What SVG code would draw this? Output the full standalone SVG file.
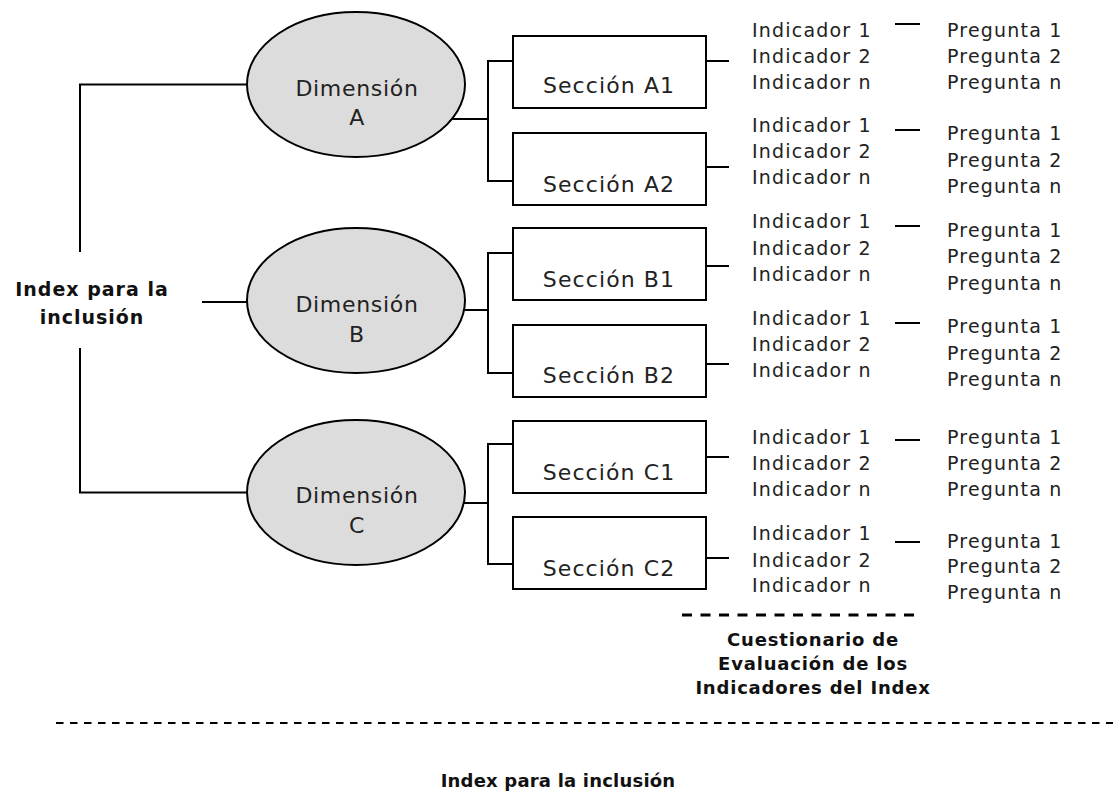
<svg xmlns="http://www.w3.org/2000/svg" width="1113" height="794" viewBox="0 0 1113 794">
  <style>
    .line { fill: none; stroke: #000; stroke-width: 2; }
    .dim { fill: #dcdcdc; stroke: #000; stroke-width: 2; }
    .box { fill: #fff; stroke: #000; stroke-width: 2; }
    .dimtxt { font-family: "DejaVu Sans", sans-serif; font-size: 22px; fill: #222; letter-spacing: 0.7px; text-anchor: middle; }
    .sectxt { font-family: "DejaVu Sans", sans-serif; font-size: 22px; fill: #222; letter-spacing: 1.1px; text-anchor: middle; }
    .item { font-family: "DejaVu Sans", sans-serif; font-size: 19px; fill: #222; letter-spacing: 1.2px; }
    .bold { font-family: "DejaVu Sans", sans-serif; font-weight: bold; fill: #111; text-anchor: middle; }
    .dash-short { fill: none; stroke: #000; stroke-width: 3; stroke-dasharray: 10 8.5; }
    .dash-long { fill: none; stroke: #000; stroke-width: 2; stroke-dasharray: 7.5 6.5; }
  </style>

  <!-- connectors -->
  <g id="connectors">
    <!-- root to dimensions -->
    <path class="line" d="M260,84.5 H80 V252"/>
    <path class="line" d="M80,348 V492.5 H260"/>
    <path class="line" d="M202,302 H260"/>
    <!-- dimension brackets -->
    <path class="line" d="M440,119 H488"/>
    <path class="line" d="M513,61 H488 V181 H513"/>
    <path class="line" d="M440,310 H488"/>
    <path class="line" d="M513,253 H488 V373 H513"/>
    <path class="line" d="M440,503 H488"/>
    <path class="line" d="M513,444 H488 V564 H513"/>
    <!-- sections to indicator lists -->
    <path class="line" d="M706,61 H729"/>
    <path class="line" d="M706,167 H729"/>
    <path class="line" d="M706,266 H729"/>
    <path class="line" d="M706,364 H729"/>
    <path class="line" d="M706,457 H729"/>
    <path class="line" d="M706,558 H729"/>
    <!-- indicator lists to question lists -->
    <path class="line" d="M895,24 H920"/>
    <path class="line" d="M895,130 H920"/>
    <path class="line" d="M895,226 H920"/>
    <path class="line" d="M895,323 H920"/>
    <path class="line" d="M895,440 H920"/>
    <path class="line" d="M895,542 H920"/>
  </g>

  <!-- root label -->
  <g id="root">
    <text class="bold" x="92" y="296" font-size="19" letter-spacing="1">Index para la</text>
    <text class="bold" x="92" y="324" font-size="19" letter-spacing="1">inclusión</text>
  </g>

  <!-- dimensions -->
  <g id="dim-a">
    <ellipse class="dim" cx="356" cy="84.5" rx="109" ry="72.5"/>
    <text class="dimtxt" x="357" y="96">Dimensión</text>
    <text class="dimtxt" x="357" y="125">A</text>
  </g>
  <g id="dim-b">
    <ellipse class="dim" cx="356" cy="300.5" rx="109" ry="72.5"/>
    <text class="dimtxt" x="357" y="312">Dimensión</text>
    <text class="dimtxt" x="357" y="342">B</text>
  </g>
  <g id="dim-c">
    <ellipse class="dim" cx="356" cy="492.5" rx="109" ry="72.5"/>
    <text class="dimtxt" x="357" y="503">Dimensión</text>
    <text class="dimtxt" x="357" y="533">C</text>
  </g>

  <!-- sections -->
  <g id="sec-a1">
    <rect class="box" x="513" y="36" width="193" height="72"/>
    <text class="sectxt" x="609" y="93">Sección A1</text>
  </g>
  <g id="sec-a2">
    <rect class="box" x="513" y="133" width="193" height="72"/>
    <text class="sectxt" x="609" y="192">Sección A2</text>
  </g>
  <g id="sec-b1">
    <rect class="box" x="513" y="228" width="193" height="72"/>
    <text class="sectxt" x="609" y="287">Sección B1</text>
  </g>
  <g id="sec-b2">
    <rect class="box" x="513" y="325" width="193" height="72"/>
    <text class="sectxt" x="609" y="383">Sección B2</text>
  </g>
  <g id="sec-c1">
    <rect class="box" x="513" y="421" width="193" height="72"/>
    <text class="sectxt" x="609" y="480">Sección C1</text>
  </g>
  <g id="sec-c2">
    <rect class="box" x="513" y="517" width="193" height="72"/>
    <text class="sectxt" x="609" y="576">Sección C2</text>
  </g>

  <!-- indicator lists -->
  <g id="ind-a1" class="item">
    <text x="752" y="37">Indicador 1</text>
    <text x="752" y="63">Indicador 2</text>
    <text x="752" y="89">Indicador n</text>
  </g>
  <g id="ind-a2" class="item">
    <text x="752" y="132">Indicador 1</text>
    <text x="752" y="158">Indicador 2</text>
    <text x="752" y="184">Indicador n</text>
  </g>
  <g id="ind-b1" class="item">
    <text x="752" y="228">Indicador 1</text>
    <text x="752" y="255">Indicador 2</text>
    <text x="752" y="281">Indicador n</text>
  </g>
  <g id="ind-b2" class="item">
    <text x="752" y="325">Indicador 1</text>
    <text x="752" y="351">Indicador 2</text>
    <text x="752" y="377">Indicador n</text>
  </g>
  <g id="ind-c1" class="item">
    <text x="752" y="444">Indicador 1</text>
    <text x="752" y="470">Indicador 2</text>
    <text x="752" y="496">Indicador n</text>
  </g>
  <g id="ind-c2" class="item">
    <text x="752" y="540">Indicador 1</text>
    <text x="752" y="567">Indicador 2</text>
    <text x="752" y="592">Indicador n</text>
  </g>

  <!-- question lists -->
  <g id="preg-a1" class="item">
    <text x="947" y="37">Pregunta 1</text>
    <text x="947" y="63">Pregunta 2</text>
    <text x="947" y="89">Pregunta n</text>
  </g>
  <g id="preg-a2" class="item">
    <text x="947" y="140">Pregunta 1</text>
    <text x="947" y="167">Pregunta 2</text>
    <text x="947" y="193">Pregunta n</text>
  </g>
  <g id="preg-b1" class="item">
    <text x="947" y="237">Pregunta 1</text>
    <text x="947" y="263">Pregunta 2</text>
    <text x="947" y="290">Pregunta n</text>
  </g>
  <g id="preg-b2" class="item">
    <text x="947" y="333">Pregunta 1</text>
    <text x="947" y="360">Pregunta 2</text>
    <text x="947" y="386">Pregunta n</text>
  </g>
  <g id="preg-c1" class="item">
    <text x="947" y="444">Pregunta 1</text>
    <text x="947" y="470">Pregunta 2</text>
    <text x="947" y="496">Pregunta n</text>
  </g>
  <g id="preg-c2" class="item">
    <text x="947" y="548">Pregunta 1</text>
    <text x="947" y="573">Pregunta 2</text>
    <text x="947" y="599">Pregunta n</text>
  </g>

  <!-- questionnaire caption -->
  <g id="questionnaire">
    <path class="dash-short" d="M682,615 H916"/>
    <text class="bold" x="813" y="646" font-size="18" letter-spacing="0.8">Cuestionario de</text>
    <text class="bold" x="813" y="670" font-size="18" letter-spacing="0.8">Evaluación de los</text>
    <text class="bold" x="813" y="694" font-size="18" letter-spacing="0.8">Indicadores del Index</text>
  </g>

  <!-- footer -->
  <g id="footer">
    <path class="dash-long" d="M56,723 H1113"/>
    <text class="bold" x="558" y="787" font-size="18" letter-spacing="0.2">Index para la inclusión</text>
  </g>
</svg>
